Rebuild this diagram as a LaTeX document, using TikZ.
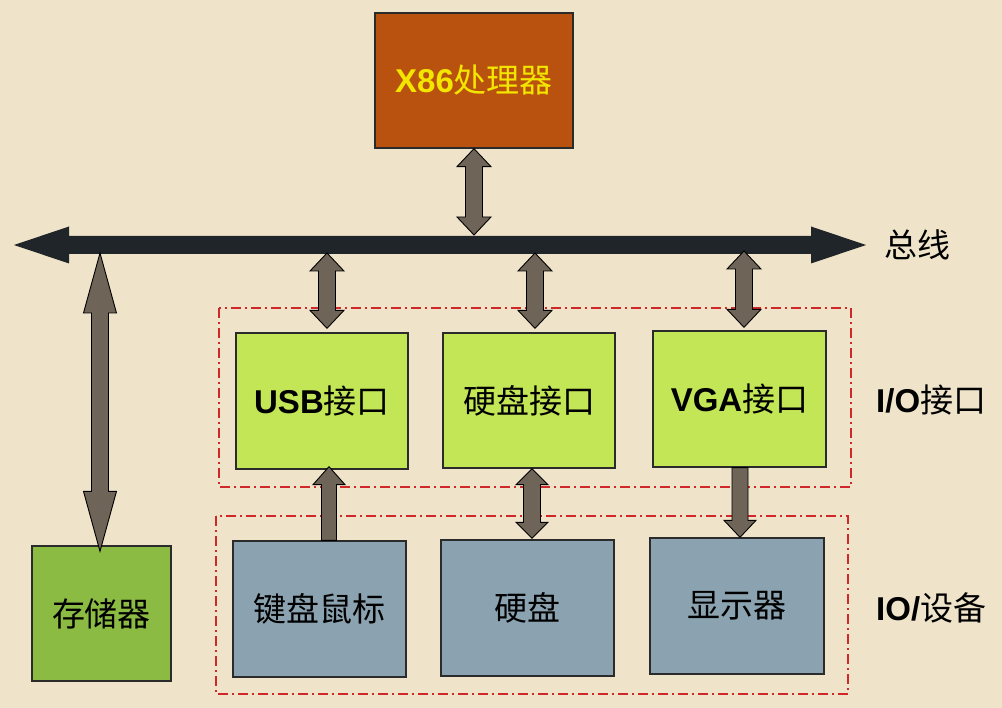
\documentclass[tikz,border=0pt]{standalone}
\usepackage{fontspec}
\setmainfont{Liberation Sans}
\newfontfamily\cjk{Noto Sans CJK SC}
\usetikzlibrary{calc}
\definecolor{bgc}{HTML}{EFE4CA}
\definecolor{cpuc}{HTML}{B8520E}
\definecolor{cputext}{HTML}{F2E500}
\definecolor{busc}{HTML}{1F2529}
\definecolor{arrowc}{HTML}{6E6457}
\definecolor{ifc}{HTML}{C2E655}
\definecolor{memc}{HTML}{8BBB42}
\definecolor{devc}{HTML}{8BA3B0}
\definecolor{redd}{HTML}{D02828}
\definecolor{borderc}{HTML}{2B2B2B}
\tikzset{
  box/.style={draw=borderc, line width=1.3pt, inner sep=0pt, font=\fontsize{33}{40}\selectfont, text=black},
  arr/.style={fill=arrowc, draw=black, line width=0.9pt, line join=miter},
  grp/.style={draw=redd, line width=1.3pt, dash pattern=on 10pt off 4pt on 2pt off 4pt},
  lbl/.style={font=\fontsize{33}{40}\selectfont, text=black, inner sep=0pt}
}
% double vertical arrow: #1 top tip, #2 bottom tip, #3 head length, #4 head half width
\newcommand\dblarrowx[4]{\draw[arr] let \p1=#1, \p2=#2 in
  (\x1,\y1) -- (\x1+#4,\y1-#3) -- (\x1+8.5pt,\y1-#3) -- (\x1+8.5pt,\y2+#3) -- (\x1+#4,\y2+#3)
  -- (\x1,\y2) -- (\x1-#4,\y2+#3) -- (\x1-8.5pt,\y2+#3) -- (\x1-8.5pt,\y1-#3) -- (\x1-#4,\y1-#3) -- cycle;}
% single up arrow: #1 tail (bottom), #2 tip (top)
\newcommand\uparrowx[4]{\draw[arr] let \p1=#1, \p2=#2 in
  (\x2,\y2) -- (\x2+#4,\y2-#3) -- (\x2+7.5pt,\y2-#3) -- (\x2+7.5pt,\y1) -- (\x2-7.5pt,\y1)
  -- (\x2-7.5pt,\y2-#3) -- (\x2-#4,\y2-#3) -- cycle;}
% single down arrow: #1 tail (top), #2 tip (bottom)
\newcommand\downarrowx[4]{\draw[arr] let \p1=#1, \p2=#2 in
  (\x1-8pt,\y1) -- (\x1+8pt,\y1) -- (\x1+8pt,\y2+#3) -- (\x1+#4,\y2+#3) -- (\x2,\y2)
  -- (\x1-#4,\y2+#3) -- (\x1-8pt,\y2+#3) -- cycle;}
\begin{document}
\begin{tikzpicture}[x=1pt,y=-1pt]
\fill[bgc] (0,0) rectangle (1002,708);
\useasboundingbox (0,0) rectangle (1002,708);

% group frames
\draw[grp] (219,308) rectangle (851,487);
\draw[grp] (216,516) rectangle (848,694);

% bus
\coordinate (busL) at (14,245);
\coordinate (busR) at (866,245);
\coordinate (bustop) at (0,235);
\coordinate (busbot) at (0,253);
\fill[busc] let \p1=(busL), \p2=(busR) in
  (\x1,\y1) -- (\x1+55pt,\y1+18.5pt) -- (\x1+55pt,\y1+9pt) -- (\x2-55pt,\y1+9pt) -- (\x2-55pt,\y1+18.5pt)
  -- (\x2,\y2) -- (\x2-55pt,\y1-18.5pt) -- (\x2-55pt,\y1-9pt) -- (\x1+55pt,\y1-9pt) -- (\x1+55pt,\y1-18.5pt) -- cycle;
\node[lbl, anchor=west] (buslbl) at (884,245) {\cjk 总线};

% boxes
\node[box, fill=cpuc, text=cputext, minimum width=198pt, minimum height=135pt] (cpu) at (474,80.5) {\bfseries X86{\cjk\mdseries 处理器}};
\node[box, fill=ifc, minimum width=172pt, minimum height=136pt] (usb) at (322,401) {\bfseries USB{\cjk\mdseries 接口}};
\node[box, fill=ifc, minimum width=172pt, minimum height=135pt] (hdi) at (529,400.5) {\cjk 硬盘接口};
\node[box, fill=ifc, minimum width=173pt, minimum height=136pt] (vga) at (739.5,399) {\bfseries VGA{\cjk\mdseries 接口}};
\node[box, fill=devc, minimum width=173pt, minimum height=136pt] (kbd) at (319.5,609) {\cjk 键盘鼠标};
\node[box, fill=devc, minimum width=173pt, minimum height=136pt] (hd) at (527.5,608) {\cjk 硬盘};
\node[box, fill=devc, minimum width=174pt, minimum height=136pt] (mon) at (737,606) {\cjk 显示器};
\node[box, fill=memc, minimum width=139pt, minimum height=135pt] (mem) at (101.5,613.5) {\cjk 存储器};

\node[lbl, anchor=west] (iolbl) at (876,400) {\bfseries I/O{\cjk\mdseries 接口}};
\node[lbl, anchor=west] (devlbl) at (876,608) {\bfseries IO/{\cjk\mdseries 设备}};

% connectors
\dblarrowx{(cpu.south)}{(cpu.south |- bustop)}{18pt}{17pt}
\dblarrowx{($(usb.north |- busbot)+(5,0)$)}{($(usb.north)+(5,-4)$)}{18pt}{17pt}
\dblarrowx{($(hdi.north |- busbot)+(6,0)$)}{($(hdi.north)+(6,-4)$)}{18pt}{17pt}
\dblarrowx{($(vga.north |- busbot)+(4.5,-2)$)}{($(vga.north)+(4.5,-3)$)}{18pt}{17pt}
\dblarrowx{($(mem.north |- busbot)+(-1.5,0)$)}{($(mem.north)+(-1.5,6)$)}{60pt}{16.5pt}
\uparrowx{($(kbd.north)+(9.5,0)$)}{($(usb.south)+(7,-3)$)}{18pt}{16pt}
\dblarrowx{($(hdi.south)+(3,0)$)}{($(hd.north)+(4.5,-1)$)}{16pt}{16pt}
\downarrowx{($(vga.south)+(0.5,0)$)}{($(mon.north)+(3,0)$)}{17pt}{16pt}
\end{tikzpicture}
\end{document}
